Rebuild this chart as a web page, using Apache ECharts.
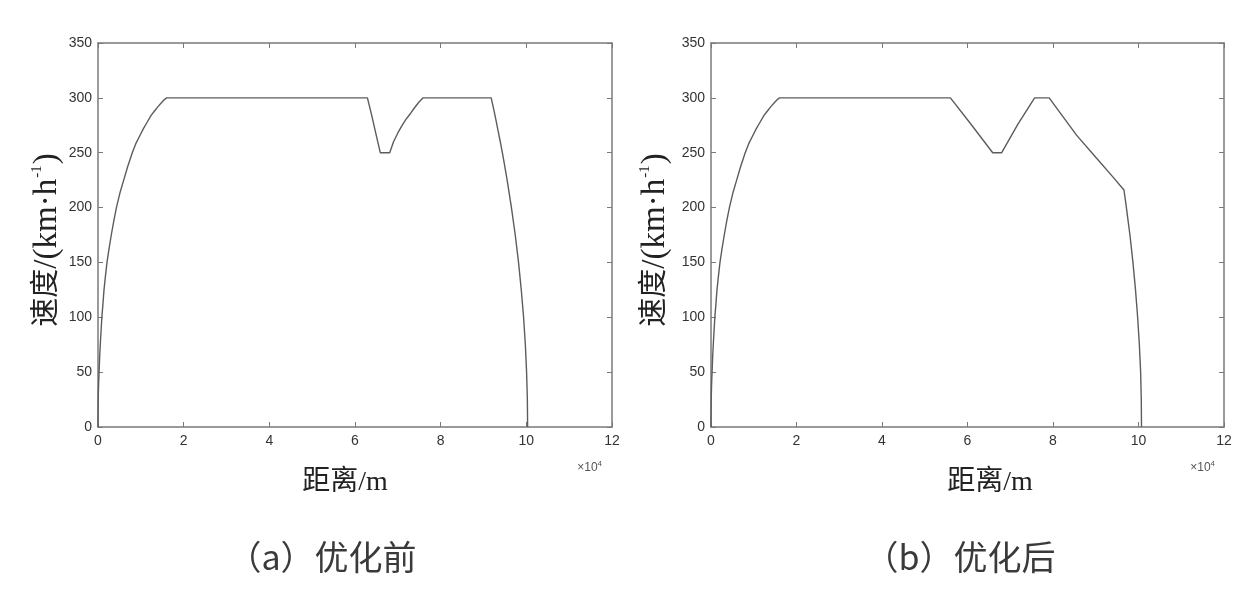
<!DOCTYPE html>
<html><head><meta charset="utf-8">
<script src="https://cdn.jsdelivr.net/npm/echarts@6/dist/echarts.min.js"></script>
<style>html,body{margin:0;padding:0;background:#fff}#c{width:1260px;height:602px}</style>
</head><body><div id="c"></div>
<script>
// distance in units of 10^4 m, speed in km/h
const xTickMax = 12, xTickStep = 2;
const yTickMax = 350, yTickStep = 50;
const distA = [0, 0.003, 0.008, 0.015, 0.025, 0.04, 0.06, 0.09, 0.115, 0.14, 0.175, 0.21, 0.26, 0.31, 0.37, 0.43, 0.51, 0.6, 0.69, 0.8, 0.88, 0.97, 1.06, 1.15, 1.24, 1.32, 1.40, 1.47, 1.54, 1.60,
  6.29, 6.39, 6.49, 6.59, 6.81, 6.90, 7.00, 7.10, 7.20, 7.30, 7.39, 7.49, 7.59,
  9.18, 9.236, 9.29, 9.341, 9.392, 9.44, 9.486, 9.552, 9.652, 9.741, 9.818, 9.882, 9.936, 9.977, 10.006, 10.024, 10.03];
const speedA = [0, 20, 30, 40, 50, 65, 80, 100, 112, 125, 138, 150, 163, 175, 188, 200, 213, 225, 237, 250, 258, 265, 272, 278, 284, 288, 292, 295, 298, 300,
  300, 284, 267, 250, 250, 260, 268, 275, 281, 286, 291, 296, 300,
  300, 290, 280, 270, 260, 250, 240, 225, 200, 175, 150, 125, 100, 75, 50, 25, 0];
const distB = [0, 0.003, 0.008, 0.015, 0.025, 0.04, 0.06, 0.09, 0.115, 0.14, 0.175, 0.21, 0.26, 0.31, 0.37, 0.43, 0.51, 0.6, 0.69, 0.8, 0.88, 0.97, 1.06, 1.15, 1.24, 1.32, 1.40, 1.47, 1.54, 1.60,
  5.60, 6.10, 6.59, 6.80, 7.18, 7.57, 7.91,
  8.55, 9.02, 9.40, 9.66, 9.70, 9.75, 9.80, 9.87, 9.93, 9.98, 10.02, 10.05, 10.065, 10.07];
const speedB = [0, 20, 30, 40, 50, 65, 80, 100, 112, 125, 138, 150, 163, 175, 188, 200, 213, 225, 237, 250, 258, 265, 272, 278, 284, 288, 292, 295, 298, 300,
  300, 275, 250, 250, 276, 300, 300,
  266, 245, 228, 216, 205, 190, 175, 150, 125, 100, 75, 50, 25, 0];
const xTitle = '距离/m';
const captions = ['（a）优化前', '（b）优化后'];

const pairs = (xs, ys) => xs.map((x, i) => [x, ys[i]]);
const axisColor = '#7a7a7a';
const labelFont = { color: '#333', fontFamily: 'Liberation Sans', fontSize: 14 };
const grids = [
  { left: 98, right: 648, top: 43, bottom: 175 },
  { left: 711, right: 36, top: 43, bottom: 175 }
];
const xAxes = [], yAxes = [];
grids.forEach((g, i) => {
  xAxes.push({ type: 'value', gridIndex: i, position: 'bottom', min: 0, max: xTickMax, interval: xTickStep,
    axisLine: { onZero: false, lineStyle: { color: axisColor, width: 1.5 } },
    axisTick: { inside: true, length: 5, lineStyle: { color: axisColor } },
    axisLabel: Object.assign({ margin: 7 }, labelFont), splitLine: { show: false } });
  xAxes.push({ type: 'value', gridIndex: i, position: 'top', min: 0, max: xTickMax, interval: xTickStep,
    axisLine: { onZero: false, lineStyle: { color: axisColor, width: 1.5 } },
    axisTick: { inside: true, length: 5, lineStyle: { color: axisColor } },
    axisLabel: { show: false }, splitLine: { show: false } });
  yAxes.push({ type: 'value', gridIndex: i, position: 'left', min: 0, max: yTickMax, interval: yTickStep,
    axisLine: { show: true, onZero: false, lineStyle: { color: axisColor, width: 1.5 } },
    axisTick: { show: true, inside: true, length: 5, lineStyle: { color: axisColor } },
    axisLabel: Object.assign({ margin: 6 }, labelFont), splitLine: { show: false } });
  yAxes.push({ type: 'value', gridIndex: i, position: 'right', min: 0, max: yTickMax, interval: yTickStep,
    axisLine: { show: true, onZero: false, lineStyle: { color: axisColor, width: 1.5 } },
    axisTick: { show: true, inside: true, length: 5, lineStyle: { color: axisColor } },
    axisLabel: { show: false }, splitLine: { show: false } });
});
const lineStyle = { color: '#5c5c5c', width: 1.4 };
const series = [
  { type: 'line', xAxisIndex: 0, yAxisIndex: 0, data: pairs(distA, speedA), showSymbol: false, lineStyle, animation: false },
  { type: 'line', xAxisIndex: 2, yAxisIndex: 2, data: pairs(distB, speedB), showSymbol: false, lineStyle, animation: false }
];
const serif = "'Liberation Serif','Noto Sans CJK SC'";
function yTitle(x) {
  return { type: 'text', x: x, y: 240, rotation: Math.PI / 2,
    style: { text: '{c|速度}{m|/(km·h}{s|-1}{m|)}', align: 'center', verticalAlign: 'middle',
      rich: { c: { fontFamily: serif, fontSize: 29, fill: '#222', lineHeight: 34 },
              m: { fontFamily: serif, fontSize: 33, fill: '#222', lineHeight: 34 },
              s: { fontFamily: serif, fontSize: 15, fill: '#222', lineHeight: 34, verticalAlign: 'top', padding: [0, 1, 14, 1] } } } };
}
function xTitleEl(x) {
  return { type: 'text', x: x, y: 483, style: { text: xTitle, align: 'center', verticalAlign: 'middle',
    font: "28px " + serif, fill: '#222' } };
}
function expEl(x) {
  return { type: 'text', x: x, y: 468, style: { text: '{a|×10}{b|4}', align: 'right', verticalAlign: 'middle',
    rich: { a: { fontFamily: 'Liberation Sans', fontSize: 12, fill: '#555' },
            b: { fontFamily: 'Liberation Sans', fontSize: 8, fill: '#555', padding: [0, 0, 8, 0] } } } };
}
function capEl(x, t) {
  return { type: 'text', x: x, y: 557, style: { text: t, align: 'center', verticalAlign: 'middle',
    font: "34px 'Noto Sans CJK SC'", fill: '#3a3a3a' } };
}
const chart = echarts.init(document.getElementById('c'), null, { renderer: 'canvas' });
chart.setOption({
  animation: false,
  grid: grids, xAxis: xAxes, yAxis: yAxes, series,
  graphic: [yTitle(47), yTitle(655), xTitleEl(345), xTitleEl(990), expEl(602), expEl(1215),
    capEl(322, captions[0]), capEl(960, captions[1])]
});
</script></body></html>
